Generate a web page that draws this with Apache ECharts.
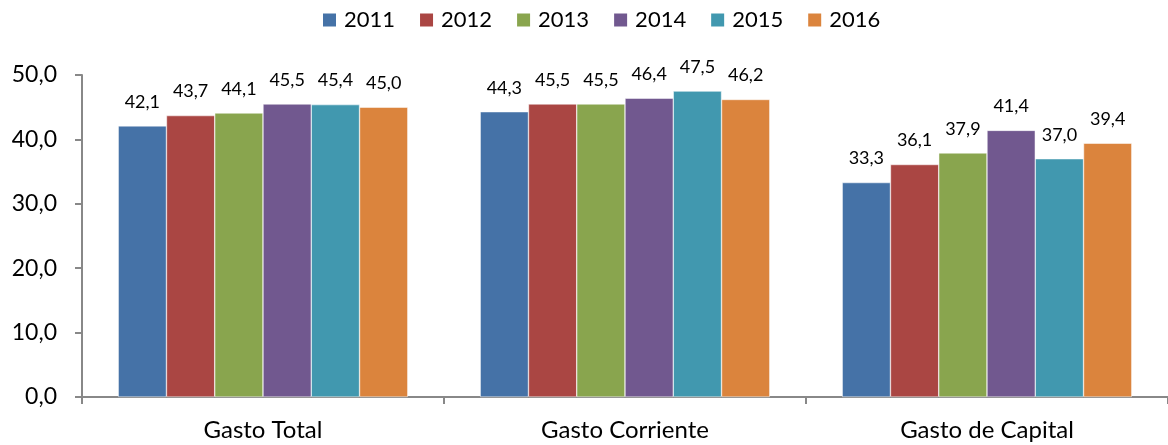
<!DOCTYPE html>
<html>
<head>
<meta charset="utf-8">
<script src="https://cdn.jsdelivr.net/npm/echarts@6/dist/echarts.min.js"></script>
<style>html,body{margin:0;padding:0;background:#fff}#c{width:1168px;height:445px}</style>
</head>
<body>
<div id="c"></div>
<script>
const categories = ['Gasto Total', 'Gasto Corriente', 'Gasto de Capital'];
const years = ['2011', '2012', '2013', '2014', '2015', '2016'];
const v2011 = [42.1, 44.3, 33.3];
const v2012 = [43.7, 45.5, 36.1];
const v2013 = [44.1, 45.5, 37.9];
const v2014 = [45.5, 46.4, 41.4];
const v2015 = [45.4, 47.5, 37.0];
const v2016 = [45.0, 46.2, 39.4];
const seriesValues = [v2011, v2012, v2013, v2014, v2015, v2016];
const colors = ['#4572A7', '#AA4643', '#89A54E', '#71588F', '#4198AF', '#DB843D'];
const fmt = v => v.toFixed(1).replace('.', ',');
const FONT = 'Lato';

const chart = echarts.init(document.getElementById('c'));
chart.setOption({
  animation: false,
  textStyle: { fontFamily: FONT },
  legend: {
    top: 9, left: 321, padding: 0,
    itemWidth: 15, itemHeight: 15, itemGap: 23,
    icon: 'rect',
    textStyle: { fontFamily: FONT, fontSize: 22, color: '#000', padding: [0, 0, 0, 2] },
    data: years
  },
  grid: { left: 82, right: 0, top: 75, bottom: 48, containLabel: false },
  xAxis: {
    type: 'category', data: categories,
    axisLine: { lineStyle: { color: '#888', width: 2 } },
    axisTick: { show: true, length: 7, lineStyle: { color: '#888', width: 2 } },
    axisLabel: { fontFamily: FONT, fontSize: 24, color: '#000', margin: 21 }
  },
  yAxis: {
    type: 'value', min: 0, max: 50, interval: 10,
    splitLine: { show: false },
    axisLine: { show: true, lineStyle: { color: '#888', width: 2 } },
    axisTick: { show: true, length: 7, lineStyle: { color: '#888', width: 2 } },
    axisLabel: { fontFamily: FONT, fontSize: 23, color: '#000', margin: 25, formatter: v => fmt(v) }
  },
  series: years.map((y, i) => ({
    name: y, type: 'bar', data: seriesValues[i],
    barGap: '0%', barCategoryGap: '20%',
    itemStyle: { color: colors[i], borderColor: '#fff', borderWidth: 0.5 },
    label: {
      show: true, position: 'top', distance: 15,
      fontFamily: FONT, fontSize: 18, color: '#000',
      formatter: p => fmt(p.value)
    }
  }))
});
</script>
</body>
</html>
